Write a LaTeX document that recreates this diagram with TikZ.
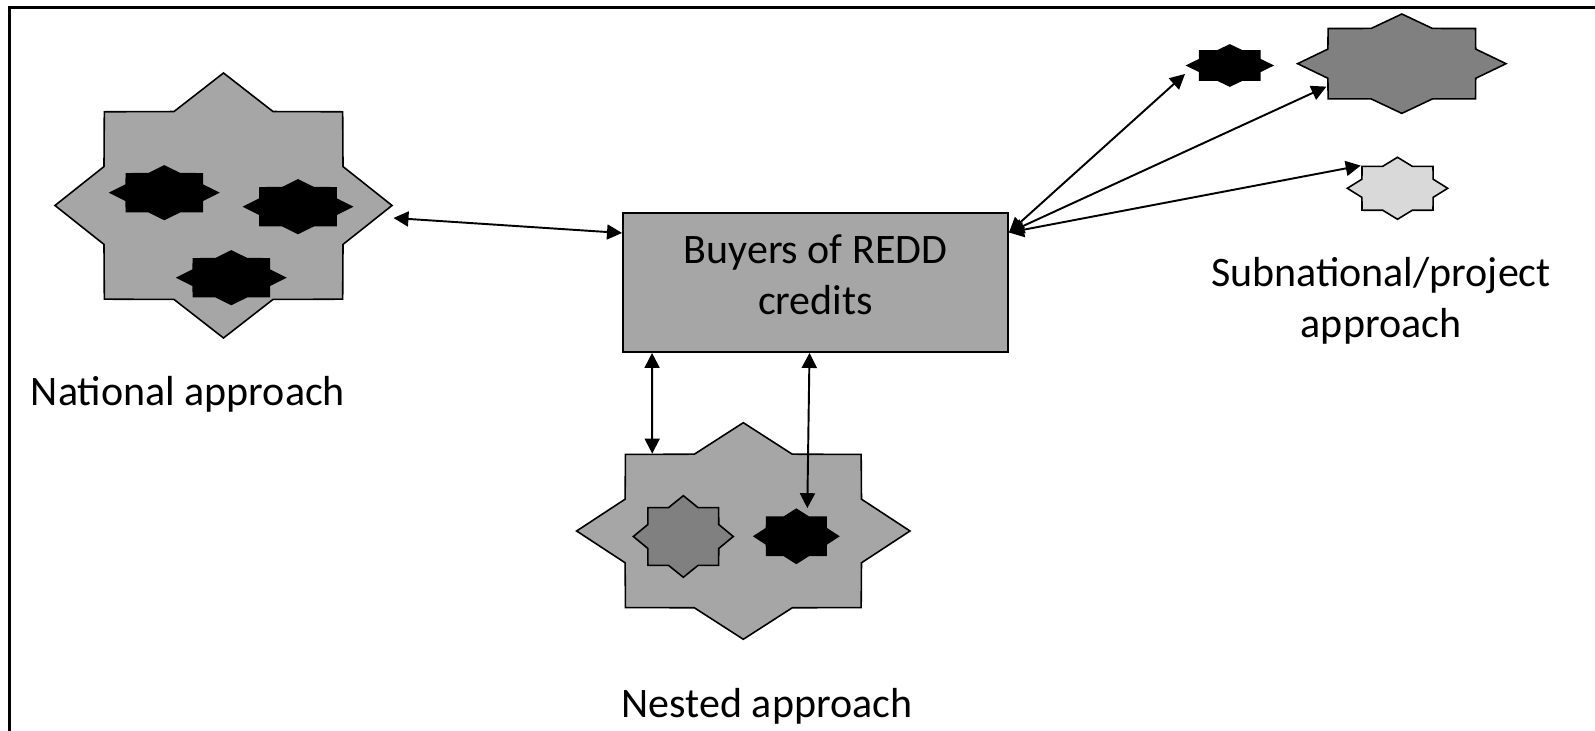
\documentclass[tikz,border=0pt]{standalone}
\usepackage{fontspec}
\setmainfont{Carlito}
\usepackage{tikz}
\usetikzlibrary{arrows.meta,shapes.geometric}
\definecolor{midgray}{RGB}{166,166,166}
\definecolor{deepgray}{RGB}{128,128,128}
\definecolor{palegray}{RGB}{217,217,217}
\newcommand{\lblfont}{\fontsize{11.95pt}{14.5pt}\selectfont}
\tikzset{
  burst/.style={star, star points=8, star point ratio=1.303, draw,
                line width=0.45pt, inner sep=0pt},
  buybox/.style={draw, fill=midgray, line width=0.55pt, minimum width=38.5mm,
                 minimum height=13.9mm, inner sep=0pt, align=center, font=\lblfont,
                 text depth=1.6mm},
  lbl/.style={font=\lblfont, align=center, inner sep=0pt},
  link/.style={{Triangle[length=1.5mm,width=1.5mm]}-{Triangle[length=1.5mm,width=1.5mm]},
               line width=0.55pt},
}
\begin{document}
\begin{tikzpicture}[x=0.1mm, y=-0.1mm]
    \useasboundingbox (0,0) rectangle (1595,731);
    \draw[line width=0.6pt] (9.5,745) -- (9.5,7.5) -- (1610,7.5);
    \node[burst, fill=midgray, minimum size=26.5mm, xscale=1.272] (nat) at (223.5,205.5) {};
    \node[burst, fill=black, minimum size=5.34mm, xscale=2.011] (nat1) at (164.3,192.7) {};
    \node[burst, fill=black, minimum size=5.34mm, xscale=2.011] (nat2) at (298,206.7) {};
    \node[burst, fill=black, minimum size=5.34mm, xscale=2.011] (nat3) at (231.3,277.7) {};
    \node[burst, fill=midgray, minimum size=21.66mm, xscale=1.539] (nest) at (743.3,531) {};
    \node[burst, fill=deepgray, minimum size=8.16mm, xscale=1.225] (nestg) at (683.3,536.5) {};
    \node[burst, fill=black, minimum size=5.4mm, xscale=1.556] (nestb) at (796.3,536.3) {};
    \node[burst, fill=black, minimum size=4.1mm, xscale=2.073] (subb) at (1229.8,65.5) {};
    \node[burst, fill=deepgray, minimum size=9.94mm, xscale=2.097] (subd) at (1401.8,63.7) {};
    \node[burst, fill=palegray, minimum size=6.2mm, xscale=1.619] (subl) at (1397.5,188.3) {};
    \node[buybox] (buy) at (815.5,282.5) {Buyers of REDD\\credits};
    \node[lbl, anchor=base] (natlbl) at (188,406) {National approach};
    \node[lbl, anchor=base] (nestlbl) at (767,717.7) {Nested approach};
    \node[lbl] (sublbl) at (1381,301) {Subnational/project\\approach};
    \draw[link] ([yshift=-1.25mm]nat.east) -- ([yshift=4.95mm]buy.west);
    \draw[link] ([xshift=3mm]buy.south west) -- ([xshift=2.8mm]nest.north west);
    \draw[link] ([xshift=-0.6mm]buy.south) -- ([xshift=1.1mm]nestb.north);
    \draw[link] ([yshift=5mm]buy.east) -- ([yshift=-0.85mm]subb.west);
    \draw[link] ([yshift=5mm]buy.east) -- ([yshift=1.3mm]subd.south west);
    \draw[link] ([yshift=5mm]buy.east) -- (subl.north west);
\end{tikzpicture}
\end{document}
